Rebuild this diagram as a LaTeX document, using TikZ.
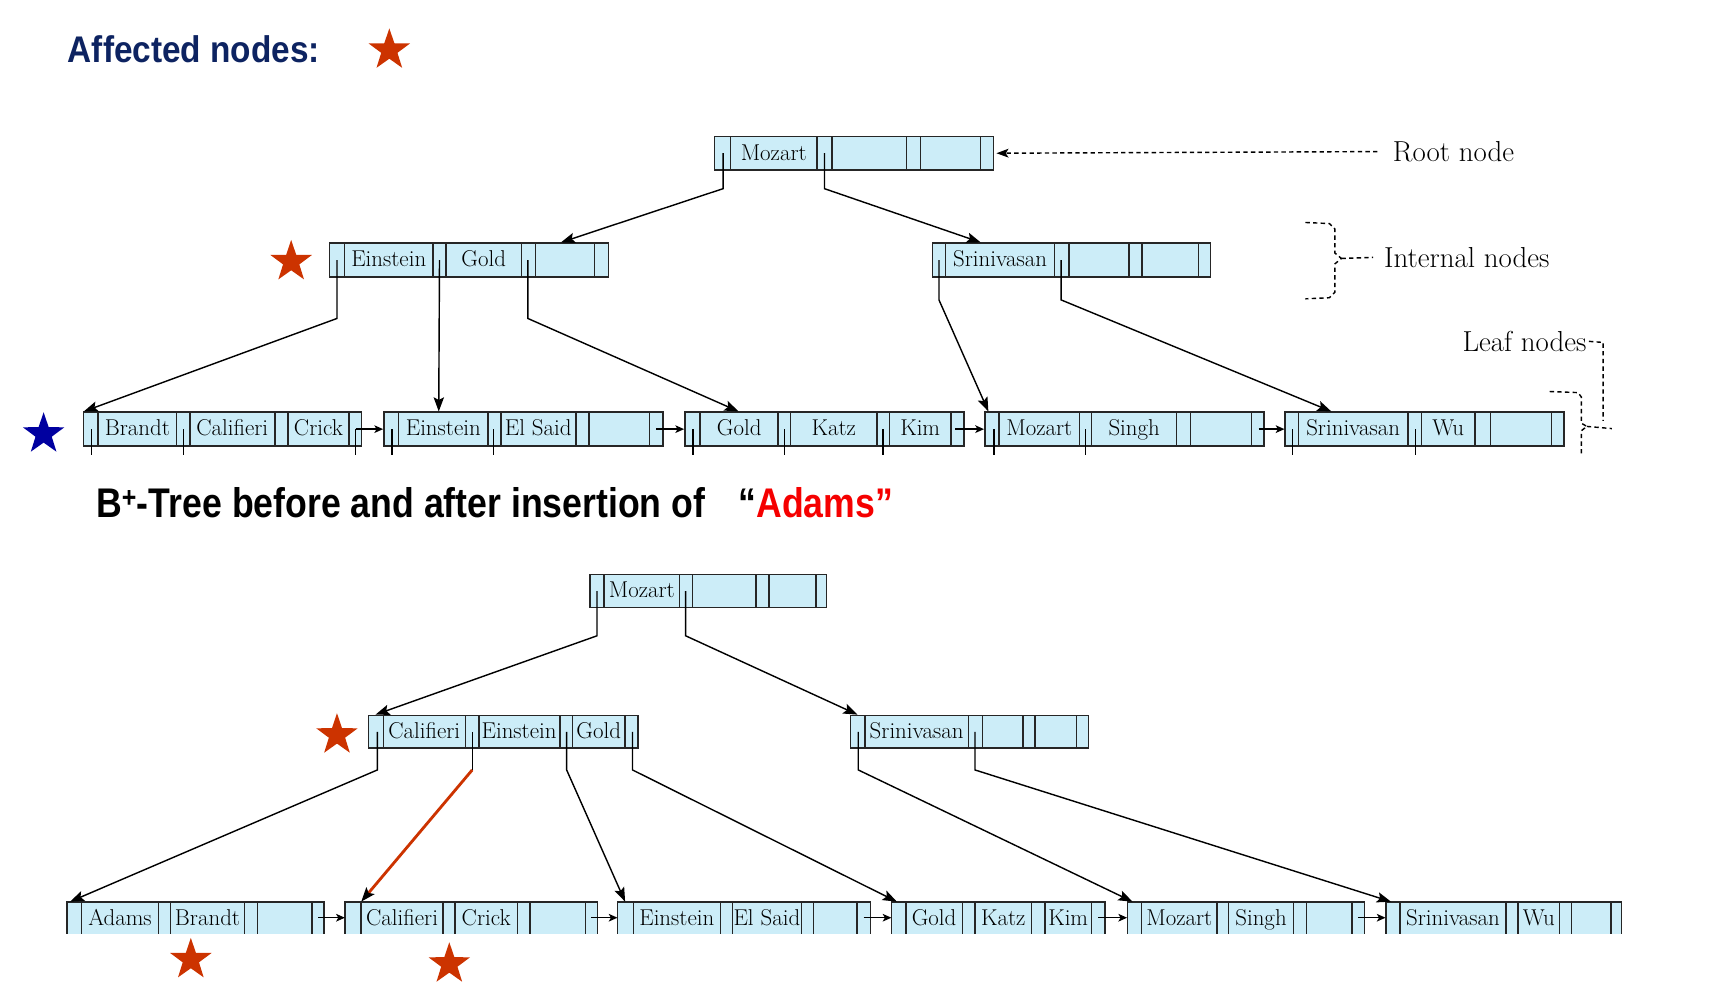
\documentclass[tikz,border=0pt]{standalone}
\usepackage{fontspec}
\usepackage{graphicx}
\usepackage{xcolor}
\usepackage{tikz}
\usetikzlibrary{shapes.geometric, arrows.meta}
\newfontfamily\headfont{Liberation Sans}
\definecolor{cellblue}{RGB}{204,237,248}
\definecolor{starred}{RGB}{204,51,0}
\definecolor{starblue}{RGB}{0,0,160}
\definecolor{headnavy}{RGB}{13,35,97}
\definecolor{adamsred}{RGB}{245,0,0}

\begin{document}
\begin{tikzpicture}[x=1pt, y=-1pt,
  bnode/.style={draw=black!85, line width=1.4pt, fill=cellblue, inner sep=0pt, minimum height=31pt},
  cutnode/.style={fill=cellblue, inner sep=0pt, minimum height=29pt},
  sep/.style={draw=black!85, line width=1.4pt},
  key/.style={inner sep=0pt, font=\fontsize{21}{22}\selectfont, text height=15.5pt, text depth=3pt},
  lbl/.style={inner sep=0pt, font=\fontsize{26.5}{30}\selectfont},
  ptr/.style={line width=1.3pt, -{Stealth[length=13pt, width=9.5pt, inset=2.5pt]}},
  nxt/.style={line width=1.3pt, -{Stealth[length=8pt, width=7pt, inset=2pt]}},
  tick/.style={line width=1.3pt},
  hint/.style={line width=1.3pt, dash pattern=on 4pt off 3pt},
  affected/.style={star, star points=5, star point ratio=2.55, minimum size=40pt, inner sep=0pt, fill=starred}]
\useasboundingbox (0,0) rectangle (1568,913);
% Heading
\node[anchor=west, inner sep=0pt, text=headnavy, font=\headfont\bfseries\fontsize{34}{36}\selectfont] (head) at (62,45) {\scalebox{0.9}[1]{Affected nodes:}};
\node[affected] (headstar) at (357,46) {};
% Top tree: root
\node[bnode, minimum width=256pt] (rootA) at (783,140.5) {};
\draw[sep] (670,125) -- (670,156) (749,125) -- (749,156) (763,125) -- (763,156)
  (831,125) -- (831,156) (844,125) -- (844,156) (899,125) -- (899,156);
\node[key] (rootA-k1) at (709.5,140.5) {Mozart};
% Top tree: internal nodes
\node[bnode, minimum width=256pt] (intA1) at (430,238.5) {};
\draw[sep] (316,223) -- (316,254) (397,223) -- (397,254) (409,223) -- (409,254)
  (478,223) -- (478,254) (491,223) -- (491,254) (545,223) -- (545,254);
\node[key] (intA1-k1) at (356.5,238.5) {Einstein};
\node[key] (intA1-k2) at (443.5,238.5) {Gold};
\node[bnode, minimum width=255pt] (intA2) at (982.5,238.5) {};
\draw[sep] (867,223) -- (867,254) (967,223) -- (967,254) (980,223) -- (980,254)
  (1035,223) -- (1035,254) (1047,223) -- (1047,254) (1099,223) -- (1099,254);
\node[key] (intA2-k1) at (917,238.5) {Srinivasan};
% Top tree: leaves
\node[bnode, minimum width=255pt] (leafA1) at (204,393.5) {};
\draw[sep] (90,378) -- (90,409) (162,378) -- (162,409) (174,378) -- (174,409)
  (252,378) -- (252,409) (264,378) -- (264,409) (320,378) -- (320,409);
\node[key] (leafA1-k1) at (126,393.5) {Brandt};
\node[key] (leafA1-k2) at (213,393.5) {Califieri};
\node[key] (leafA1-k3) at (292,393.5) {Crick};
\node[bnode, minimum width=256pt] (leafA2) at (480,393.5) {};
\draw[sep] (365.5,378) -- (365.5,409) (447.4,378) -- (447.4,409) (459.3,378) -- (459.3,409)
  (528,378) -- (528,409) (540.3,378) -- (540.3,409) (595.6,378) -- (595.6,409);
\node[key] (leafA2-k1) at (406.5,393.5) {Einstein};
\node[key] (leafA2-k2) at (493.6,393.5) {El Said};
\node[bnode, minimum width=256pt] (leafA3) at (756,393.5) {};
\draw[sep] (642,378) -- (642,409) (713.5,378) -- (713.5,409) (725,378) -- (725,409)
  (804.2,378) -- (804.2,409) (815.7,378) -- (815.7,409) (871.8,378) -- (871.8,409);
\node[key] (leafA3-k1) at (677.8,393.5) {Gold};
\node[key] (leafA3-k2) at (764.6,393.5) {Katz};
\node[key] (leafA3-k3) at (843.8,393.5) {Kim};
\node[bnode, minimum width=256pt] (leafA4) at (1031,393.5) {};
\draw[sep] (915.8,378) -- (915.8,409) (990,378) -- (990,409) (1001,378) -- (1001,409)
  (1079,378) -- (1079,409) (1091.7,378) -- (1091.7,409) (1147.7,378) -- (1147.7,409);
\node[key] (leafA4-k1) at (953,393.5) {Mozart};
\node[key] (leafA4-k2) at (1040,393.5) {Singh};
\node[bnode, minimum width=255.5pt] (leafA5) at (1306.25,393.5) {};
\draw[sep] (1190.6,378) -- (1190.6,409) (1291,378) -- (1291,409) (1303.3,378) -- (1303.3,409)
  (1352.7,378) -- (1352.7,409) (1366.5,378) -- (1366.5,409) (1422.6,378) -- (1422.6,409);
\node[key] (leafA5-k1) at (1240.8,393.5) {Srinivasan};
\node[key] (leafA5-k2) at (1328,393.5) {Wu};
% Top tree: record pointers under the leaves
\draw[tick] (84,393.5) -- (84,417) (168,393.5) -- (168,417) (326,393.5) -- (326,417)
  (359.4,393.5) -- (359.4,417) (452.7,393.5) -- (452.7,417)
  (635.4,393.5) -- (635.4,417) (719.5,393.5) -- (719.5,417) (809.7,393.5) -- (809.7,417)
  (911.4,393.5) -- (911.4,417) (995.4,393.5) -- (995.4,417)
  (1185,393.5) -- (1185,417) (1297.8,393.5) -- (1297.8,417);
% Top tree: child pointers
\coordinate (rootA-p1) at (663,140.5);
\coordinate (rootA-p2) at (756,140.5);
\draw[ptr] (rootA-p1) -- ++(0,32.5) -- ([xshift=213pt]intA1.north west);
\draw[ptr] (rootA-p2) -- ++(0,32.5) -- ([xshift=45pt]intA2.north west);
\coordinate (intA1-p1) at (309,238.5);
\coordinate (intA1-p2) at (403,238.5);
\coordinate (intA1-p3) at (484,238.5);
\draw[ptr] (intA1-p1) -- ++(0,53.5) -- ([xshift=1pt]leafA1.north west);
\draw[ptr] (intA1-p2) -- ([xshift=51pt]leafA2.north west);
\draw[ptr] (intA1-p3) -- ++(0,53.5) -- ([xshift=50pt]leafA3.north west);
\coordinate (intA2-p1) at (861,238.5);
\coordinate (intA2-p2) at (973,238.5);
\draw[ptr] (intA2-p1) -- ++(0,36.5) -- ([xshift=4pt]leafA4.north west);
\draw[ptr] (intA2-p2) -- ++(0,36.5) -- ([xshift=43pt]leafA5.north west);
% Top tree: leaf chain
\coordinate (leafA1-nx) at (326,393.5);
\coordinate (leafA2-nx) at (601.6,393.5);
\coordinate (leafA3-nx) at (876,393.5);
\coordinate (leafA4-nx) at (1154,393.5);
\draw[nxt] (leafA1-nx) -- (leafA2.west);
\draw[nxt] (leafA2-nx) -- (leafA3.west);
\draw[nxt] (leafA3-nx) -- (leafA4.west);
\draw[nxt] (leafA4-nx) -- (leafA5.west);
% Labels on the right
\node[lbl, anchor=west] (rootlbl) at (1277,139) {Root node};
\draw[hint, -{Stealth[length=11pt, width=8pt, inset=2.5pt]}] ([xshift=-14pt]rootlbl.west) -- ([xshift=2pt]rootA.east);
\node[lbl, anchor=west] (intlbl) at (1269,236) {Internal nodes};
\draw[hint] (1197,204) -- (1219,205) -- (1224,210) -- (1224,232) -- (1230,237)
  -- (1224,242) -- (1224,268) -- (1219,273) -- (1197,274);
\coordinate (intbrace) at (1230,237);
\draw[hint] (intbrace) -- ([xshift=-10pt]intlbl.west);
\node[lbl, anchor=east] (leaflbl) at (1455,313) {Leaf nodes};
\draw[hint] (1421,359) -- (1447,360) -- (1450,364) -- (1450,388) -- (1455,391)
  -- (1450,395) -- (1450,417);
\coordinate (leafbrace) at (1455,391);
\draw[hint] (leafbrace) -- (1478,393);
\draw[hint] ([xshift=2pt]leaflbl.east) -- (1470,314) -- (1470,386);
% Stars, top tree
\node[affected] (starA1) at (267,240) {};
\node[affected, fill=starblue] (starA2) at (40,398) {};
% Title
\node[anchor=west, inner sep=0pt, font=\headfont\bfseries\fontsize{38}{40}\selectfont] (title) at (88,461) {\scalebox{0.86}[1]{B\textsuperscript{+}-Tree before and after insertion of}};
\node[anchor=west, inner sep=0pt, font=\headfont\bfseries\fontsize{38}{40}\selectfont] (adams) at (677,461) {\scalebox{0.86}[1]{“\textcolor{adamsred}{Adams”}}};
% Bottom tree: root
\node[bnode, minimum width=217pt, minimum height=30pt] (rootB) at (649.5,542) {};
\draw[sep] (554,527) -- (554,557) (623,527) -- (623,557) (635,527) -- (635,557)
  (693,527) -- (693,557) (705,527) -- (705,557) (748,527) -- (748,557);
\node[key] (rootB-k1) at (588.5,542) {Mozart};
% Bottom tree: internal nodes
\node[bnode, minimum width=247pt, minimum height=30pt] (intB1) at (461.5,671) {};
\draw[sep] (351.5,656) -- (351.5,686) (427,656) -- (427,686) (439,656) -- (439,686)
  (513.5,656) -- (513.5,686) (525,656) -- (525,686) (573,656) -- (573,686);
\node[key] (intB1-k1) at (389,671) {Califieri};
\node[key] (intB1-k2) at (476,671) {Einstein};
\node[key] (intB1-k3) at (549,671) {Gold};
\node[bnode, minimum width=218pt, minimum height=30pt] (intB2) at (889,671) {};
\draw[sep] (793,656) -- (793,686) (888,656) -- (888,686) (901,656) -- (901,686)
  (938,656) -- (938,686) (949,656) -- (949,686) (987,656) -- (987,686);
\node[key] (intB2-k1) at (840.5,671) {Srinivasan};
% Bottom tree: leaves (cut off at the bottom)
\node[cutnode, minimum width=235.6pt] (leafB1) at (179.2,841.5) {};
\draw[sep] (61.4,856) |- (297,827) -- (297,856) (74.7,827) -- (74.7,856) (145.4,827) -- (145.4,856)
  (156.3,827) -- (156.3,856) (224.4,827) -- (224.4,856) (236,827) -- (236,856) (286,827) -- (286,856);
\node[key] (leafB1-k1) at (110,842) {Adams};
\node[key] (leafB1-k2) at (190.3,842) {Brandt};
\node[cutnode, minimum width=231.6pt] (leafB2) at (432.2,841.5) {};
\draw[sep] (316.4,856) |- (548,827) -- (548,856) (331,827) -- (331,856) (406.4,827) -- (406.4,856)
  (417.2,827) -- (417.2,856) (474.5,827) -- (474.5,856) (486,827) -- (486,856) (537,827) -- (537,856);
\node[key] (leafB2-k1) at (368.7,842) {Califieri};
\node[key] (leafB2-k2) at (445.8,842) {Crick};
\node[cutnode, minimum width=231.6pt] (leafB3) at (682.2,841.5) {};
\draw[sep] (566.4,856) |- (798,827) -- (798,856) (580.7,827) -- (580.7,856) (660.5,827) -- (660.5,856)
  (671.5,827) -- (671.5,856) (735,827) -- (735,856) (746,827) -- (746,856) (786,827) -- (786,856);
\node[key] (leafB3-k1) at (620.6,842) {Einstein};
\node[key] (leafB3-k2) at (703.2,842) {El Said};
\node[cutnode, minimum width=195.4pt] (leafB4) at (915.3,841.5) {};
\draw[sep] (817.6,856) |- (1013,827) -- (1013,856) (830.6,827) -- (830.6,856) (882.5,827) -- (882.5,856)
  (894,827) -- (894,856) (946,827) -- (946,856) (958,827) -- (958,856) (1001,827) -- (1001,856);
\node[key] (leafB4-k1) at (856.5,842) {Gold};
\node[key] (leafB4-k2) at (920,842) {Katz};
\node[key] (leafB4-k3) at (979.5,842) {Kim};
\node[cutnode, minimum width=217.3pt] (leafB5) at (1142.35,841.5) {};
\draw[sep] (1033.7,856) |- (1251,827) -- (1251,856) (1046.8,827) -- (1046.8,856) (1116,827) -- (1116,856)
  (1126.6,827) -- (1126.6,856) (1186,827) -- (1186,856) (1198,827) -- (1198,856) (1239.5,827) -- (1239.5,856);
\node[key] (leafB5-k1) at (1081.4,842) {Mozart};
\node[key] (leafB5-k2) at (1156.3,842) {Singh};
\node[cutnode, minimum width=216.3pt] (leafB6) at (1378.85,841.5) {};
\draw[sep] (1270.7,856) |- (1487,827) -- (1487,856) (1283.7,827) -- (1283.7,856) (1381,827) -- (1381,856)
  (1392,827) -- (1392,856) (1430,827) -- (1430,856) (1441,827) -- (1441,856) (1477,827) -- (1477,856);
\node[key] (leafB6-k1) at (1332.3,842) {Srinivasan};
\node[key] (leafB6-k2) at (1411,842) {Wu};
% Bottom tree: child pointers
\coordinate (rootB-p1) at (547.4,542);
\coordinate (rootB-p2) at (628.7,542);
\draw[ptr] (rootB-p1) -- ++(0,41) -- ([xshift=7pt]intB1.north west);
\draw[ptr] (rootB-p2) -- ++(0,41) -- ([xshift=7pt]intB2.north west);
\coordinate (intB1-p1) at (346,671);
\coordinate (intB1-p2) at (433,671);
\coordinate (intB1-p3) at (519.6,671);
\coordinate (intB1-p4) at (580,671);
\draw[ptr] (intB1-p1) -- ++(0,35) -- ([xshift=3pt]leafB1.north west);
\draw[tick] (intB1-p2) -- ++(0,35) coordinate (intB1-bend);
\draw[ptr, draw=starred, line width=2.6pt, -{Stealth[length=13pt, width=9.5pt, inset=2.5pt, black]}] (intB1-bend) -- ([xshift=15pt]leafB2.north west);
\draw[ptr] (intB1-p3) -- ++(0,35) -- ([xshift=7pt]leafB3.north west);
\draw[ptr] (intB1-p4) -- ++(0,35) -- ([xshift=5pt]leafB4.north west);
\coordinate (intB2-p1) at (787,671);
\coordinate (intB2-p2) at (894,671);
\draw[ptr] (intB2-p1) -- ++(0,35) -- ([xshift=5pt]leafB5.north west);
\draw[ptr] (intB2-p2) -- ++(0,35) -- ([xshift=5pt]leafB6.north west);
% Bottom tree: leaf chain
\coordinate (leafB1-nx) at (292,841.5);
\coordinate (leafB2-nx) at (542,841.5);
\coordinate (leafB3-nx) at (792,841.5);
\coordinate (leafB4-nx) at (1007,841.5);
\coordinate (leafB5-nx) at (1245,841.5);
\draw[nxt] (leafB1-nx) -- (leafB2.west);
\draw[nxt] (leafB2-nx) -- (leafB3.west);
\draw[nxt] (leafB3-nx) -- (leafB4.west);
\draw[nxt] (leafB4-nx) -- (leafB5.west);
\draw[nxt] (leafB5-nx) -- (leafB6.west);
% Stars, bottom tree
\node[affected] (starB1) at (309,674) {};
\node[affected] (starB2) at (175,880) {};
\node[affected] (starB3) at (412,884) {};
\end{tikzpicture}
\end{document}
